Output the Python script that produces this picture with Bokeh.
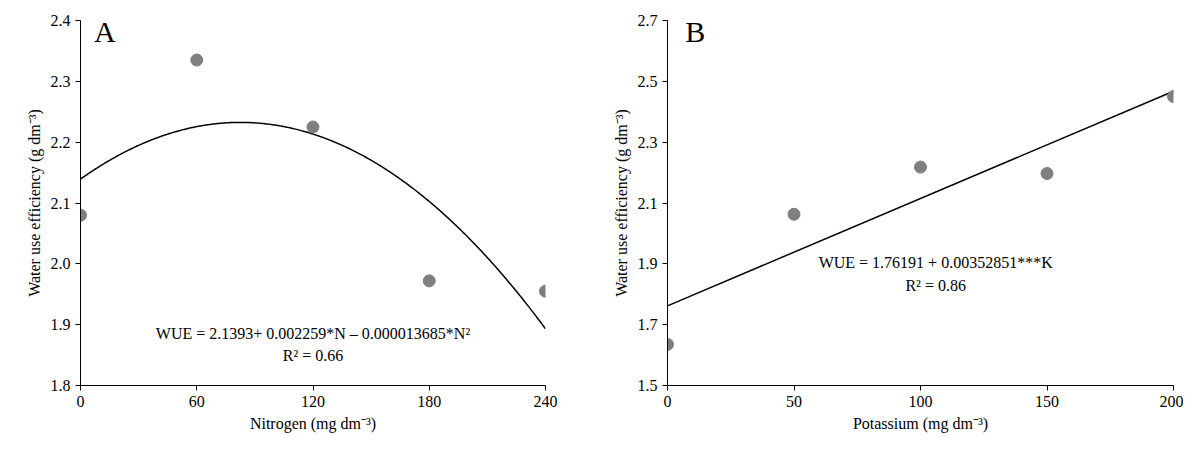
from bokeh.plotting import figure
from bokeh.layouts import row
from bokeh.models import Range1d, FixedTicker, Label
from bokeh.embed import file_html
from bokeh.resources import INLINE

n_dose = [0, 60, 120, 180, 240]
wue_n = [2.08, 2.335, 2.225, 1.972, 1.955]
k_dose = [0, 50, 100, 150, 200]
wue_k = [1.635, 2.063, 2.218, 2.197, 2.45]

# fitted equations printed on the chart
coef_n = (2.1393, 0.002259, -0.000013685)
coef_k = (1.76191, 0.00352851)

FONT = "'Times New Roman', 'Liberation Serif', serif"


def style(p, xticks, yticks, fmt):
    p.grid.visible = False
    p.outline_line_color = None
    for ax in (p.xaxis, p.yaxis):
        ax.axis_line_color = "black"
        ax.major_tick_line_color = "black"
        ax.minor_tick_line_color = None
        ax.major_tick_out = 5
        ax.major_tick_in = 0
        ax.major_label_text_font = FONT
        ax.major_label_text_font_size = "16px"
        ax.major_label_text_color = "black"
        ax.axis_label_text_font = FONT
        ax.axis_label_text_font_size = "16px"
        ax.axis_label_text_color = "black"
        ax.axis_label_text_font_style = "normal"
    p.xaxis.ticker = FixedTicker(ticks=xticks)
    p.yaxis.ticker = FixedTicker(ticks=yticks)
    p.yaxis.major_label_overrides = {t: fmt % t for t in yticks}


def label(p, x, y, text, size="16px", align="center"):
    p.add_layout(Label(x=x, y=y, text=text, text_align=align, text_font=FONT,
                       text_font_size=size, text_color="black"))


pa = figure(width=598, height=442, output_backend="svg", toolbar_location=None,
            x_range=Range1d(0, 240), y_range=Range1d(1.8, 2.4),
            min_border_left=80, min_border_right=53, min_border_top=20, min_border_bottom=57,
            x_axis_label="Nitrogen (mg dm⁻³)", y_axis_label="Water use efficiency (g dm⁻³)")
style(pa, n_dose, [1.8, 1.9, 2.0, 2.1, 2.2, 2.3, 2.4], "%.1f")
xs = [i * 0.5 for i in range(481)]
pa.line(xs, [coef_n[0] + coef_n[1] * x + coef_n[2] * x * x for x in xs], line_color="black", line_width=1.5)
pa.scatter(n_dose, wue_n, size=12, color="#7f7f7f")
label(pa, 7, 2.355, "A", size="30px", align="left")
label(pa, 120, 1.872, "WUE = 2.1393+ 0.002259*N – 0.000013685*N²")
label(pa, 120, 1.835, "R² = 0.66")

pb = figure(width=585, height=442, output_backend="svg", toolbar_location=None,
            x_range=Range1d(0, 200), y_range=Range1d(1.5, 2.7),
            min_border_left=69, min_border_right=10, min_border_top=20, min_border_bottom=57,
            x_axis_label="Potassium (mg dm⁻³)", y_axis_label="Water use efficiency (g dm⁻³)")
style(pb, k_dose, [1.5, 1.7, 1.9, 2.1, 2.3, 2.5, 2.7], "%.1f")
pb.line([0, 200], [coef_k[0], coef_k[0] + coef_k[1] * 200], line_color="black", line_width=1.5)
pb.scatter(k_dose, wue_k, size=12, color="#7f7f7f")
label(pb, 7, 2.61, "B", size="30px", align="left")
label(pb, 106, 1.875, "WUE = 1.76191 + 0.00352851***K")
label(pb, 106, 1.80, "R² = 0.86")

p = row(pa, pb)
open("out.html", "w").write(file_html(p, INLINE))
